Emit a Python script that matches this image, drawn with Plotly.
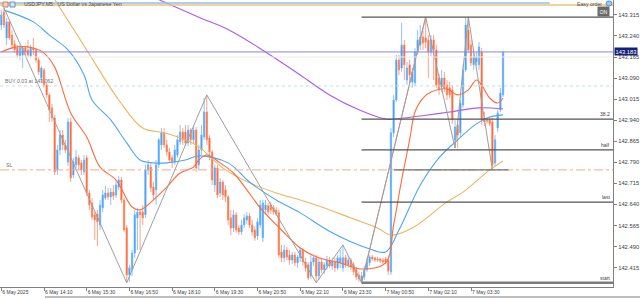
import pandas as pd
import plotly.graph_objects as go

# ---------------- data (USDJPY M5) ----------------
opens = [
143.279,143.325,143.233,143.290,143.243,143.211,143.197,143.169,143.172,143.197,
143.190,143.169,143.197,143.190,143.154,143.090,143.119,143.065,143.030,142.984,
142.948,142.763,142.834,142.887,142.852,142.791,142.934,142.745,142.781,142.806,
142.788,142.756,142.806,142.681,142.645,142.603,142.606,142.567,142.628,142.663,
142.681,142.667,142.684,142.674,142.702,142.727,142.656,142.556,142.389,142.407,
142.467,142.592,142.613,142.613,142.603,142.763,142.773,142.702,142.692,142.781,
142.852,142.895,142.852,142.827,142.806,142.791,142.816,142.863,142.898,142.898,
142.859,142.905,142.870,142.905,142.781,142.834,142.880,142.969,142.877,142.827,
142.709,142.770,142.681,142.720,142.692,142.667,142.592,142.556,142.603,142.556,
142.542,142.567,142.585,142.599,142.567,142.549,142.528,142.567,142.521,142.620,
142.635,142.638,142.628,142.620,142.610,142.471,142.450,142.478,142.460,142.442,
142.460,142.432,142.450,142.478,142.435,142.425,142.385,142.435,142.450,142.385,
142.435,142.407,142.421,142.442,142.421,142.435,142.414,142.435,142.414,142.450,
142.425,142.442,142.425,142.407,142.389,142.371,142.382,142.407,142.432,142.453,
142.450,142.446,142.446,142.442,142.446,142.442,142.400,142.895,143.012,143.154,
143.126,143.208,143.083,143.137,143.076,143.073,143.183,143.208,143.236,143.233,
143.226,143.183,143.226,143.190,143.090,143.058,143.090,143.065,143.055,143.048,
142.870,142.923,142.895,142.994,143.119,143.261,143.208,143.137,143.147,143.137,
143.183,142.948,142.941,142.941,142.934,142.788,142.912,142.977,143.030]
highs = [
143.332,143.340,143.304,143.297,143.261,143.226,143.208,143.208,143.204,143.204,
143.226,143.208,143.233,143.197,143.162,143.133,143.126,143.073,143.037,142.998,
142.959,142.852,142.905,142.905,142.870,142.948,142.948,142.806,142.834,142.816,
142.798,142.816,142.816,142.692,142.663,142.613,142.620,142.656,142.692,142.706,
142.699,142.699,142.709,142.727,142.741,142.738,142.663,142.567,142.425,142.478,
142.620,142.628,142.620,142.638,142.781,142.798,142.788,142.720,142.798,142.877,
142.912,142.912,142.870,142.841,142.816,142.852,142.887,142.923,142.912,142.923,
142.923,142.912,142.923,142.916,142.852,142.923,143.019,143.030,142.887,142.834,
142.781,142.781,142.734,142.727,142.709,142.674,142.620,142.620,142.613,142.567,
142.585,142.606,142.613,142.610,142.585,142.563,142.592,142.656,142.656,142.656,
142.645,142.649,142.638,142.631,142.620,142.496,142.496,142.489,142.478,142.471,
142.471,142.460,142.489,142.485,142.450,142.435,142.460,142.460,142.460,142.450,
142.450,142.435,142.457,142.453,142.450,142.450,142.460,142.478,142.496,142.460,
142.457,142.450,142.435,142.417,142.400,142.400,142.421,142.450,142.460,142.460,
142.453,142.453,142.450,142.450,142.453,142.450,142.912,143.030,143.172,143.172,
143.286,143.226,143.147,143.154,143.126,143.197,143.261,143.279,143.261,143.307,
143.243,143.243,143.243,143.208,143.105,143.119,143.112,143.083,143.076,143.065,
142.941,142.941,143.012,143.137,143.304,143.307,143.226,143.183,143.183,143.218,
143.197,142.969,142.951,142.951,142.948,142.887,142.977,143.055,143.183]
lows = [
143.261,143.268,143.208,143.226,143.197,143.179,143.162,143.154,143.126,143.172,
143.165,143.162,143.172,143.144,143.101,143.076,143.055,143.019,142.934,142.934,
142.745,142.745,142.816,142.834,142.823,142.777,142.720,142.734,142.770,142.763,
142.745,142.745,142.670,142.620,142.585,142.514,142.492,142.549,142.613,142.656,
142.656,142.638,142.656,142.663,142.692,142.645,142.542,142.361,142.364,142.385,
142.450,142.478,142.478,142.567,142.592,142.745,142.684,142.656,142.638,142.770,
142.834,142.841,142.813,142.788,142.770,142.781,142.806,142.852,142.852,142.848,
142.848,142.852,142.859,142.756,142.763,142.816,142.870,142.852,142.798,142.709,
142.684,142.663,142.667,142.656,142.649,142.567,142.531,142.542,142.539,142.531,
142.531,142.556,142.571,142.556,142.528,142.510,142.514,142.556,142.506,142.603,
142.603,142.606,142.603,142.599,142.450,142.435,142.435,142.442,142.425,142.428,
142.421,142.414,142.435,142.421,142.400,142.371,142.375,142.421,142.361,142.371,
142.396,142.393,142.407,142.414,142.407,142.400,142.407,142.414,142.400,142.414,
142.414,142.407,142.389,142.371,142.364,142.361,142.371,142.400,142.421,142.439,
142.435,142.435,142.432,142.428,142.428,142.389,142.389,142.880,143.005,143.101,
143.112,143.083,143.065,143.076,143.055,143.062,143.172,143.190,143.190,143.197,
143.090,143.169,143.083,143.055,143.030,143.040,143.040,143.012,143.019,142.927,
142.841,142.841,142.880,142.984,143.112,143.179,143.133,143.119,143.133,143.119,
142.923,142.919,142.927,142.919,142.763,142.777,142.898,142.969,143.023]
closes = [
143.315,143.279,143.290,143.233,143.208,143.190,143.172,143.197,143.197,143.183,
143.172,143.197,143.190,143.154,143.112,143.126,143.065,143.030,142.976,142.948,
142.756,142.834,142.887,142.852,142.834,142.934,142.734,142.791,142.809,142.781,
142.763,142.798,142.681,142.638,142.595,142.585,142.578,142.638,142.674,142.681,
142.667,142.684,142.670,142.709,142.727,142.656,142.549,142.389,142.414,142.467,
142.603,142.613,142.603,142.592,142.763,142.781,142.699,142.674,142.781,142.870,
142.895,142.852,142.827,142.798,142.791,142.834,142.870,142.898,142.870,142.859,
142.905,142.870,142.905,142.770,142.834,142.887,142.969,142.870,142.827,142.727,
142.770,142.674,142.720,142.674,142.667,142.585,142.556,142.603,142.549,142.542,
142.567,142.592,142.599,142.567,142.542,142.521,142.578,142.638,142.645,142.638,
142.613,142.620,142.613,142.606,142.460,142.450,142.478,142.453,142.442,142.460,
142.432,142.453,142.478,142.435,142.414,142.378,142.435,142.450,142.385,142.435,
142.407,142.425,142.442,142.421,142.435,142.414,142.450,142.450,142.450,142.428,
142.442,142.417,142.400,142.382,142.375,142.385,142.407,142.435,142.453,142.446,
142.442,142.442,142.439,142.435,142.435,142.403,142.895,143.012,143.154,143.119,
143.208,143.137,143.126,143.101,143.112,143.183,143.226,143.236,143.215,143.218,
143.183,143.226,143.190,143.065,143.048,143.090,143.055,143.030,143.030,142.941,
142.916,142.887,143.001,143.119,143.279,143.190,143.144,143.165,143.165,143.201,
142.941,142.934,142.937,142.927,142.781,142.870,142.966,143.037,143.183]

# moving averages, sampled at bar indices
ma_fast_idx = [0,6,12,16,20,26,32,37,43,49,52,57,62,67,72,74,77,82,87,92,97,105,112,119,127,135,144,147,150,153,155,158,161,167,171,175,178,180,183,186,188]
ma_fast = [143.183,143.201,143.197,143.179,143.129,142.966,142.880,142.773,142.727,142.631,
           142.621,142.656,142.702,142.752,142.773,142.798,142.816,142.788,142.752,142.692,
           142.628,142.549,142.485,142.450,142.432,142.410,142.432,142.567,142.727,142.870,
           142.969,143.019,143.040,143.051,143.030,143.048,143.083,143.065,143.019,143.001,143.019]
ma_mid_idx = [1,12,18,25,31,34,41,47,52,57,62,69,74,85,93,103,112,124,137,144,149,157,164,171,178,183,188]
ma_mid = [143.332,143.290,143.243,143.190,143.101,143.012,142.941,142.859,142.798,142.788,
          142.788,142.798,142.813,142.788,142.720,142.656,142.610,142.539,142.485,142.471,
          142.549,142.709,142.806,142.870,142.927,142.951,142.959]
ma_slow_idx = [20,32,44,53,61,69,74,84,93,103,112,120,131,141,146,154,167,173,183,188]
ma_slow = [143.370,143.190,143.012,142.912,142.895,142.870,142.845,142.763,142.717,142.681,
           142.656,142.631,142.592,142.556,142.531,142.556,142.649,142.684,142.763,142.795]
ma_long_idx = [56,74,86,99,112,123,134,144,147,157,168,179,188]
ma_long = [143.382,143.307,143.258,143.183,143.101,143.030,142.977,142.944,142.944,142.955,142.969,142.984,142.980]

# zigzag pivots
zz_idx = [1,47,77,118,128,135,159,170,175,184]
zz_price = [143.340,142.361,143.030,142.361,142.496,142.361,143.307,142.841,143.307,142.763]

# fibonacci levels (from the start pivot)
fib_prices = [142.361, 142.648, 142.834, 142.944, 143.307]
fib_labels = ["start", "last", "half", "38.2", ""]

bid_price = 143.183
buy_price = 143.062
sl_price = 142.763
top_blue_price = 143.357
top_orange_price = 143.350
faint_price = 143.165

y_ticks = [142.415,142.490,142.565,142.640,142.715,142.790,142.865,142.940,143.015,143.090,143.165,143.240,143.315]
x_tick_idx = [0,16,32,48,64,80,96,112,128,144,160,176]
x_tick_text = ["6 May 2025","6 May 14:10","6 May 15:30","6 May 16:50","6 May 18:10","6 May 19:30",
               "6 May 20:50","6 May 22:10","6 May 23:30","7 May 00:50","7 May 02:10","7 May 03:30"]

# ---------------- figure ----------------
start = pd.Timestamp("2025-05-06 12:50")
bar = pd.Timedelta(minutes=5)

def t(i):
    return start + bar * i

times = [t(i) for i in range(len(closes))]
x_lo = start - pd.Timedelta(seconds=146)
x_hi = start + pd.Timedelta(minutes=1146)
y_lo, y_hi = 142.346, 143.368

FONT = "Liberation Sans"
fig = go.Figure()

fig.add_trace(go.Candlestick(
    x=times, open=opens, high=highs, low=lows, close=closes,
    increasing=dict(line=dict(color="#6FB4F7", width=0.8), fillcolor="#2A93F5"),
    decreasing=dict(line=dict(color="#FF8A66", width=0.8), fillcolor="#FF4F14"),
    whiskerwidth=0, hoverinfo="skip", showlegend=False))

def ma(idx, vals, color, width=1.1):
    fig.add_trace(go.Scatter(x=[t(i) for i in idx], y=vals, mode="lines",
                             line=dict(color=color, width=width, shape="spline", smoothing=1.0),
                             hoverinfo="skip", showlegend=False))

ma(ma_long_idx, ma_long, "#A95CEB")
ma(ma_slow_idx, ma_slow, "#EDB55E")
ma(ma_mid_idx, ma_mid, "#4EA6F2")
ma(ma_fast_idx, ma_fast, "#FF6A3D")

# zigzag
fig.add_trace(go.Scatter(x=[t(i) for i in zz_idx], y=zz_price, mode="lines",
                         line=dict(color="#9E9E9E", width=1), hoverinfo="skip", showlegend=False))
fig.add_trace(go.Scatter(x=[t(zz_idx[5]), t(zz_idx[6])], y=[zz_price[5], zz_price[6]], mode="lines",
                         line=dict(color="#B89696", width=1), hoverinfo="skip", showlegend=False))

shapes = []
def hline(y, x0, x1, color, width=1, dash="solid", xref="x"):
    shapes.append(dict(type="line", xref=xref, yref="y", x0=x0, x1=x1, y0=y, y1=y,
                       line=dict(color=color, width=width, dash=dash), layer="above"))

hline(top_orange_price, 0, 1, "#EFC27A", 1.5, xref="paper")
hline(top_blue_price, x_lo, t(205.5), "#8EC1F2", 1.5)
hline(faint_price, 0, 1, "#ECECEC", 1, xref="paper")
hline(bid_price, 0, 1, "#8C84E0", 1, xref="paper")
hline(buy_price, 0, 1, "#BFE0D8", 1, "dot", xref="paper")
hline(sl_price, 0, 1, "#F5A88A", 1, "dashdot", xref="paper")
hline(sl_price, t(147), t(190), "#707070", 1.2)
for p in fib_prices:
    w = 2.5 if p == fib_prices[0] else 1.3
    c = "#7C7C7C" if p == fib_prices[0] else "#555555"
    hline(p, t(135), x_hi, c, w)

# bottom scroll line below axis
shapes.append(dict(type="line", xref="paper", yref="paper", x0=45/613, x1=640/613, y0=-10/287, y1=-10/287,
                   line=dict(color="#A8A8A8", width=1.5)))
# title icons
shapes.append(dict(type="rect", xref="paper", yref="paper", x0=3/613, x1=8/613, y0=1-7/287, y1=1-2/287,
                   line=dict(color="#E07060", width=1), fillcolor="#F8D8D0"))
shapes.append(dict(type="rect", xref="paper", yref="paper", x0=10/613, x1=15/613, y0=1-7/287, y1=1-2/287,
                   line=dict(color="#6090D0", width=1), fillcolor="#D8E4F4"))
# easy order icon
shapes.append(dict(type="circle", xref="paper", yref="paper", x0=606/613, x1=612/613, y0=1-6/287, y1=1-1/287,
                   line=dict(color="#4A90D9", width=1), fillcolor="#9CC8F0"))

ann = []
small = dict(family=FONT, size=5.3, color="#505050")
ann.append(dict(xref="paper", yref="paper", x=22/613, y=1-4.5/287, xanchor="left", yanchor="middle",
                text="USDJPY,M5:  US Dollar vs Japanese Yen", showarrow=False, font=small))
ann.append(dict(xref="paper", yref="y", x=0, xshift=3, y=buy_price, yanchor="bottom", xanchor="left",
                text="BUY 0.03 at " + f"{buy_price:.3f}", showarrow=False,
                font=dict(family=FONT, size=5.2, color="#707070")))
ann.append(dict(xref="paper", yref="y", x=0, xshift=4, y=sl_price, yanchor="bottom", xanchor="left",
                text="SL", showarrow=False, font=dict(family=FONT, size=5.2, color="#707070")))
for p, lab in zip(fib_prices, fib_labels):
    if lab:
        ann.append(dict(xref="paper", yref="y", x=1, xshift=-1, y=p, yanchor="bottom", xanchor="right",
                        text=lab, showarrow=False, font=dict(family=FONT, size=5, color="#404040")))
ann.append(dict(xref="paper", yref="paper", x=604/613, y=1-4/287, xanchor="right", yanchor="middle",
                text="Easy order", showarrow=False, font=dict(family=FONT, size=5.2, color="#505050")))
ann.append(dict(xref="paper", yref="paper", x=603/613, y=1-11/287, xanchor="center", yanchor="middle",
                text="ON", showarrow=False, bgcolor="#6A6A6A", borderpad=1.5,
                font=dict(family=FONT, size=5.2, color="#FFFFFF")))
ann.append(dict(xref="paper", yref="y", x=1, xshift=1, y=bid_price, xanchor="left", yanchor="middle",
                text=f"{bid_price:.3f}", showarrow=False, bgcolor="#15207A", borderpad=0.5,
                font=dict(family=FONT, size=5.8, color="#FFFFFF")))

fig.update_layout(
    width=640, height=300,
    margin=dict(l=0, r=27, t=0, b=13),
    paper_bgcolor="white", plot_bgcolor="white",
    hovermode=False, showlegend=False,
    shapes=shapes, annotations=ann,
    xaxis=dict(type="date", range=[x_lo, x_hi], rangeslider=dict(visible=False),
               showgrid=False, zeroline=False, showline=True, linecolor="#808080", linewidth=1,
               tickvals=[t(i) for i in x_tick_idx], ticktext=x_tick_text,
               ticks="outside", ticklen=3, tickcolor="#808080",
               ticklabelposition="outside right",
               tickfont=dict(family=FONT, size=5, color="#404040")),
    yaxis=dict(side="right", range=[y_lo, y_hi], showgrid=False, zeroline=False,
               showline=True, linecolor="#808080", linewidth=1,
               tickvals=y_ticks, ticktext=[f"{v:.3f}" for v in y_ticks],
               ticks="outside", ticklen=3, tickcolor="#808080",
               tickfont=dict(family=FONT, size=5.8, color="#404040")),
)

fig.write_html("out.html")
